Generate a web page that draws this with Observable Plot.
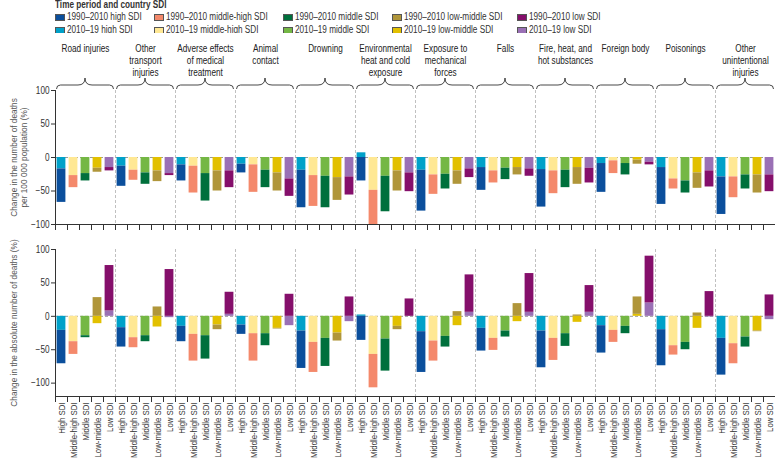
<!DOCTYPE html>
<html><head><meta charset="utf-8">
<script src="https://cdn.jsdelivr.net/npm/d3@7"></script>
<script src="https://cdn.jsdelivr.net/npm/@observablehq/plot@0.6"></script>
<style>
body{margin:0;background:#fff;font-family:"Liberation Sans",Arial,sans-serif;}
#wrap{position:relative;width:775px;height:462px;overflow:hidden;background:#fff;}
#legend{position:absolute;left:0;top:0;width:775px;height:33px;}
#top{position:absolute;left:0;top:33px;}
#bottom{position:absolute;left:0;top:233px;}
.lt{position:absolute;left:55px;top:-1px;font-weight:bold;font-size:10px;color:#333;transform:scaleX(0.82);transform-origin:left center;white-space:nowrap;}
.li{position:absolute;font-size:10px;color:#333;white-space:nowrap;display:flex;align-items:center;height:12px;line-height:12px;}
.sw{display:inline-block;width:10px;height:7px;border:0.6px solid #555;margin-right:2px;box-sizing:border-box;}
.lbl{display:inline-block;transform:scaleX(0.82);transform-origin:left center;}
</style></head>
<body>
<div id="wrap">
  <div id="legend"></div>
  <div id="top"></div>
  <div id="bottom"></div>
</div>
<script>
// ---------- data ----------
const categories = ["Road injuries","Other transport injuries","Adverse effects of medical treatment","Animal contact","Drowning","Environmental heat and cold exposure","Exposure to mechanical forces","Falls","Fire, heat, and hot substances","Foreign body","Poisonings","Other unintentional injuries"];
const categoryLabels = ["Road injuries","Other\ntransport\ninjuries","Adverse effects\nof medical\ntreatment","Animal\ncontact","Drowning","Environmental\nheat and cold\nexposure","Exposure to\nmechanical\nforces","Falls","Fire, heat, and\nhot substances","Foreign body","Poisonings","Other\nunintentional\ninjuries"];
const sdiGroups = ["High SDI","Middle-high SDI","Middle SDI","Low-middle SDI","Low SDI"];
const legendSdi = ["high SDI","middle-high SDI","middle SDI","low-middle SDI","low SDI"];
const periods = ["1990–2010","2010–19"];
const earlyColors  = ["#0b4f9c","#f4896b","#00703c","#b0963a","#850f6b"];
const recentColors = ["#00a1c9","#ffe894","#74b744","#e2c000","#9a70b5"];
const yTicks = [-100,-50,0,50,100];

// change in deaths per 100 000 population (%), rows = categories, cols = SDI groups
const rateRecent = [
  [-17,-27,-24,-16,-15],[-13,-19,-23,-20,-24],[-11,-13,-24,-20,-20],[-10,-11,-19,-23,-32],
  [-19,-27,-28,-30,-29],[7,-49,-28,-20,-23],[-19,-26,-25,-20,-17],[-15,-20,-16,-15,-17],
  [-18,-20,-19,-15,-16],[-9,-5,-9,-4,-7],[-15,-32,-35,-23,-20],[-29,-29,-26,-26,-26]
];
const rateEarly = [
  [-50,-18,-11,-6,-5],[-30,-15,-17,-16,-3],[-24,-40,-41,-30,-25],[-13,-41,-26,-27,-26],
  [-56,-46,-47,-34,-27],[-35,-51,-53,-30,-28],[-61,-29,-22,-20,-13],[-34,-18,-17,-11,-11],
  [-56,-34,-26,-25,-22],[-43,-19,-17,-6,-4],[-55,-15,-18,-23,-24],[-56,-31,-21,-27,-25]
];
// change in absolute number of deaths (%)
const countRecent = [
  [-21,-38,-29,-11,8],[-17,-32,-29,-16,-2],[-15,-27,-29,-13,3],[-13,-26,-26,-18,-14],
  [-22,-39,-33,-25,-8],[2,-57,-34,-15,0],[-23,-37,-30,-14,6],[-18,-33,-22,-8,6],
  [-22,-33,-26,-9,6],[-14,-21,-15,3,20],[-20,-44,-39,-18,-1],[-33,-41,-31,-22,-5]
];
const countEarly = [
  [-50,-19,-3,28,68],[-29,-15,-9,14,70],[-23,-40,-35,-7,33],[-14,-41,-18,-1,33],
  [-56,-45,-42,-12,29],[-36,-50,-48,-5,26],[-61,-30,-16,7,56],[-34,-18,-9,19,58],
  [-55,-33,-19,2,40],[-41,-18,-11,26,70],[-54,-14,-11,5,37],[-55,-30,-15,-1,32]
];

// ---------- legend ----------
const legend = document.getElementById("legend");
legend.innerHTML = '<div class="lt">Time period and country SDI</div>';
const legendX = [55,154,283,392,517];
const legendY = [11,24];
periods.forEach((p, r) => legendSdi.forEach((s, j) => {
  const d = document.createElement("div");
  d.className = "li";
  d.style.left = legendX[j] + "px";
  d.style.top = legendY[r] + "px";
  const col = r === 0 ? earlyColors[j] : recentColors[j];
  d.innerHTML = `<span class="sw" style="background:${col}"></span><span class="lbl">${p} ${s}</span>`;
  legend.appendChild(d);
}));

// ---------- chart ----------
const W = 775, ML = 55, MR = 0;
const keys = categories.flatMap(c => sdiGroups.map(s => c + "|" + s));
const step = (W - ML - MR) / keys.length;
const colorDomain = sdiGroups.flatMap(s => periods.map(p => p + " " + s));
const colorRange = sdiGroups.flatMap((s, j) => [earlyColors[j], recentColors[j]]);
const FONT = '"Liberation Sans",Arial,sans-serif';

function rows(recent, early) {
  const out = [];
  categories.forEach((c, i) => sdiGroups.forEach((s, j) => {
    out.push({key: c + "|" + s, series: periods[1] + " " + s, value: recent[i][j]});
    out.push({key: c + "|" + s, series: periods[0] + " " + s, value: early[i][j]});
  }));
  return out;
}

function panel({recent, early, height, marginTop, marginBottom, yDomain, yLabel, labelDx, xLabels, cats}) {
  const data = rows(recent, early);
  const facetStarts = categories.slice(1).map(c => c + "|" + sdiGroups[0]);
  const marks = [
    Plot.ruleY([0], {stroke: "#9a9a9a", strokeDasharray: "3,2"}),
    Plot.ruleX(facetStarts, {dx: -step / 2, stroke: "#b0b0b0", strokeDasharray: "3,2", strokeWidth: 0.8}),
    Plot.barY(data, {x: "key", y: "value", fill: "series", insetLeft: 1.6, insetRight: 1.6}),
    Plot.ruleY([yDomain[0]], {stroke: "#333"}),
    Plot.ruleX([keys[0]], {dx: -step / 2, stroke: "#333"}),
    Plot.axisY({ticks: yTicks, tickSize: 4, tickPadding: 2, label: null, fontSize: 10, stroke: "#333"}),
    Plot.axisX({tickSize: 6, tickFormat: () => "", dx: -step / 2, label: null, stroke: "#333"}),
    Plot.text([yLabel], {frameAnchor: "left", rotate: -90, dx: labelDx, text: d => d, textAnchor: "middle", lineAnchor: "middle", fontSize: 8.3, fill: "#555", lineHeight: 1.3})
  ];
  if (xLabels) marks.push(Plot.axisX({tickSize: 0, tickPadding: 6, tickRotate: -90, tickFormat: k => k.split("|")[1], label: null, fontSize: 9.5, fill: "#333"}));
  if (cats) marks.push(Plot.text(categories, {x: c => c + "|" + sdiGroups[2], frameAnchor: "top", dy: -47, lineAnchor: "top", text: (c, i) => categoryLabels[i], fontSize: 10, fill: "#222", lineHeight: 1.2}));
  const svg = Plot.plot({
    width: W, height, marginLeft: ML, marginRight: MR, marginTop, marginBottom,
    x: {type: "band", domain: keys, padding: 0},
    y: {domain: yDomain},
    color: {domain: colorDomain, range: colorRange},
    style: {fontFamily: FONT, fontSize: "10px", color: "#333", background: "white", overflow: "visible"},
    marks
  });
  if (cats) {
    const xs = svg.scale("x");
    const g = d3.select(svg).append("g").attr("fill", "none").attr("stroke", "#333").attr("stroke-width", 0.9);
    const yEnd = marginTop - 1, yH = marginTop - 5, yTip = marginTop - 12, r = 4;
    categories.forEach(c => {
      const xa = xs.apply(c + "|" + sdiGroups[0]) + 1.5;
      const xb = xs.apply(c + "|" + sdiGroups[4]) + xs.step - 1.5;
      const xm = (xa + xb) / 2;
      g.append("path").attr("d",
        `M${xa},${yEnd} Q${xa},${yH} ${xa + r},${yH} L${xm - 7},${yH} Q${xm},${yH} ${xm},${yTip} Q${xm},${yH} ${xm + 7},${yH} L${xb - r},${yH} Q${xb},${yH} ${xb},${yEnd}`);
    });
  }
  return svg;
}

// narrow the type (the original uses a condensed face); the rotated axis titles are left as they are
function condense(svg, k) {
  svg.querySelectorAll("text").forEach(t => {
    if (t.textContent.startsWith("Change")) return;
    const tspans = t.querySelectorAll("tspan");
    const targets = tspans.length ? Array.from(tspans) : [t];
    targets.forEach(el => {
      const len = el.getComputedTextLength();
      if (len > 0) {
        el.setAttribute("textLength", (len * k).toFixed(2));
        el.setAttribute("lengthAdjust", "spacingAndGlyphs");
      }
    });
  });
}

const topSvg = panel({
  recent: rateRecent, early: rateEarly, height: 200, marginTop: 57, marginBottom: 9,
  yDomain: [-100, 100], yLabel: "Change in the number of deaths\nper 100 000 population (%)", labelDx: -37,
  xLabels: false, cats: true
});
document.getElementById("top").appendChild(topSvg);
const bottomSvg = panel({
  recent: countRecent, early: countEarly, height: 229, marginTop: 16, marginBottom: 66,
  yDomain: [-120, 100], yLabel: "Change in the absolute number of deaths (%)", labelDx: -42,
  xLabels: true, cats: false
});
document.getElementById("bottom").appendChild(bottomSvg);
condense(topSvg, 0.82);
condense(bottomSvg, 0.82);
</script>
</body></html>
